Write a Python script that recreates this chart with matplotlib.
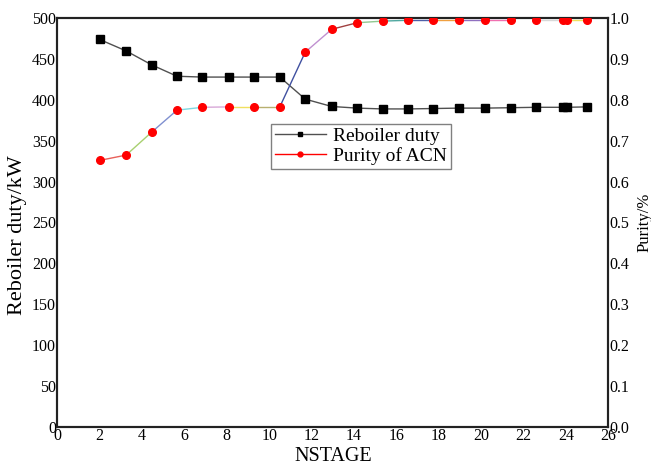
import matplotlib.pyplot as plt
from matplotlib.lines import Line2D

# NSTAGE sensitivity results
nstage = [2, 3.25, 4.45, 5.65, 6.85, 8.1, 9.3, 10.5, 11.7, 12.95, 14.15,
          15.35, 16.55, 17.75, 18.95, 20.2, 21.4, 22.6, 23.85, 24.05, 25]
duty = [474, 460, 443, 429, 428, 428, 428, 428, 401, 392, 390,
        389, 389, 389.5, 390, 390, 390.5, 391, 391, 391, 391.5]
purity = [0.652, 0.665, 0.721, 0.775, 0.782, 0.783, 0.783, 0.783, 0.917, 0.973, 0.989,
          0.993, 0.995, 0.995, 0.995, 0.995, 0.995, 0.995, 0.995, 0.995, 0.995]

# the original purity curve has a different colour on every segment
seg_colors = ['#e8605a', '#a8d070', '#8090d0', '#80d8e0', '#d8a8d8', '#f0e060',
              '#b8b070', '#4050a0', '#c090d0', '#a04040', '#90c890', '#50a8a0',
              '#5060a8', '#f0a040', '#9070c0', '#f070b0', '#ffffff', '#d8d8d8',
              '#e04040', '#f0e060']

plt.rcParams['font.family'] = ['Liberation Serif', 'DejaVu Serif']

fig = plt.figure(figsize=(6.51, 4.68), dpi=100)
ax = fig.add_axes([0.088, 0.0882, 0.8464, 0.8728])
ax2 = ax.twinx()

ax.plot(nstage, duty, color='#505050', lw=1.0, marker='s', ms=5.5,
        mfc='black', mec='black', zorder=3)

for i in range(len(nstage) - 1):
    ax2.plot(nstage[i:i + 2], purity[i:i + 2], color=seg_colors[i], lw=1.0, zorder=2)
ax2.plot(nstage, purity, ls='none', marker='o', ms=5.5, mfc='red', mec='red', zorder=3)

ax.set_xlim(0, 26)
ax.set_ylim(0, 500)
ax2.set_ylim(0, 1.0)
ax.set_xticks(range(0, 27, 2))
ax.set_yticks(range(0, 501, 50))
ax2.set_yticks([i / 10 for i in range(11)])
ax2.set_yticklabels([f'{i / 10:.1f}' for i in range(11)])

for a in (ax, ax2):
    a.tick_params(length=0, labelsize=11.5, pad=1)
    for s in a.spines.values():
        s.set_linewidth(1.5)
        s.set_color('#222222')

ax.set_xlabel('NSTAGE', fontsize=14.5, labelpad=2)
ax.set_ylabel('Reboiler duty/kW', fontsize=16)
ax.yaxis.set_label_coords(-0.055, 0.47)
ax2.set_ylabel('Purity/%', fontsize=12, labelpad=5)

handles = [Line2D([], [], color='#505050', lw=1.0, marker='s', ms=3.5, mfc='black', mec='black'),
           Line2D([], [], color='red', lw=1.0, marker='o', ms=3.5, mfc='red', mec='red')]
leg = ax2.legend(handles, ['Reboiler duty', 'Purity of ACN'], loc='upper left',
                 bbox_to_anchor=(0.388, 0.742), fontsize=14, fancybox=False,
                 framealpha=1, edgecolor='#808080', borderpad=0.2, labelspacing=0.1,
                 handlelength=2.6, handletextpad=0.4, borderaxespad=0)
leg.get_frame().set_linewidth(1.0)

fig.savefig('out.png', dpi=100)
